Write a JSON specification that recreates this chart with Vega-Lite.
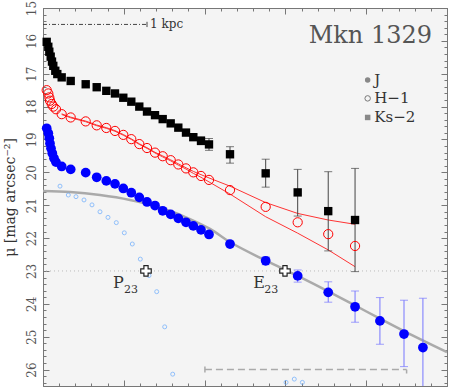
{
  "$schema": "https://vega.github.io/schema/vega-lite/v6.json",
  "width": 404,
  "height": 378,
  "autosize": "none",
  "padding": {"left": 43, "top": 8, "right": 3, "bottom": 1},
  "background": "white",
  "config": {
    "view": {"fill": "#f4f4f4", "stroke": "#777777", "strokeWidth": 1},
    "font": "DejaVu Serif",
    "axis": {"domain": false, "grid": false, "tickColor": "#777777", "labelFont": "DejaVu Serif", "titleFont": "DejaVu Serif", "labelColor": "#555555", "titleColor": "#333333", "titleFontWeight": "normal"}
  },
  "resolve": {"axis": {"x": "independent", "y": "independent"}},
  "datasets": {
    "ks": [
      {"r": 0.229, "mu": 16.03}, {"r": 0.328, "mu": 16.18}, {"r": 0.39, "mu": 16.33}, {"r": 0.476, "mu": 16.48},
      {"r": 0.557, "mu": 16.63}, {"r": 0.637, "mu": 16.76}, {"r": 0.761, "mu": 16.91}, {"r": 0.885, "mu": 17.01},
      {"r": 1.157, "mu": 17.11}, {"r": 1.714, "mu": 17.22}, {"r": 2.642, "mu": 17.32}, {"r": 3.323, "mu": 17.41},
      {"r": 3.917, "mu": 17.52}, {"r": 4.455, "mu": 17.6}, {"r": 4.969, "mu": 17.73}, {"r": 5.464, "mu": 17.85},
      {"r": 5.959, "mu": 18.0}, {"r": 6.436, "mu": 18.15}, {"r": 6.931, "mu": 18.26}, {"r": 7.407, "mu": 18.38},
      {"r": 7.902, "mu": 18.51}, {"r": 8.373, "mu": 18.64},
      {"r": 8.849, "mu": 18.79, "lo": 18.7, "hi": 18.88},
      {"r": 9.301, "mu": 18.93, "lo": 18.84, "hi": 19.02},
      {"r": 9.777, "mu": 19.04, "lo": 18.92, "hi": 19.16},
      {"r": 10.272, "mu": 19.15, "lo": 18.97, "hi": 19.33},
      {"r": 11.572, "mu": 19.45, "lo": 19.22, "hi": 19.72},
      {"r": 13.78, "mu": 20.03, "lo": 19.6, "hi": 20.45},
      {"r": 15.76, "mu": 20.61, "lo": 19.91, "hi": 21.33},
      {"r": 17.65, "mu": 21.18, "lo": 19.98, "hi": 22.39},
      {"r": 19.31, "mu": 21.45, "lo": 19.88, "hi": 23.02}
    ],
    "h": [
      {"r": 0.229, "mu": 17.5}, {"r": 0.328, "mu": 17.6}, {"r": 0.39, "mu": 17.72}, {"r": 0.433, "mu": 17.82},
      {"r": 0.538, "mu": 17.92}, {"r": 0.637, "mu": 18.0}, {"r": 0.804, "mu": 18.08},
      {"r": 1.157, "mu": 18.23, "lo": 18.22, "hi": 18.24},
      {"r": 1.714, "mu": 18.33, "lo": 18.32, "hi": 18.34},
      {"r": 2.642, "mu": 18.45, "lo": 18.44, "hi": 18.46},
      {"r": 3.323, "mu": 18.57, "lo": 18.56, "hi": 18.58},
      {"r": 3.917, "mu": 18.65, "lo": 18.64, "hi": 18.66},
      {"r": 4.455, "mu": 18.74, "lo": 18.73, "hi": 18.75},
      {"r": 4.969, "mu": 18.86, "lo": 18.85, "hi": 18.87},
      {"r": 5.464, "mu": 18.99, "lo": 18.98, "hi": 19.0},
      {"r": 5.959, "mu": 19.14, "lo": 19.13, "hi": 19.15},
      {"r": 6.436, "mu": 19.26, "lo": 19.25, "hi": 19.27},
      {"r": 6.931, "mu": 19.4, "lo": 19.39, "hi": 19.41},
      {"r": 7.407, "mu": 19.51, "lo": 19.5, "hi": 19.53},
      {"r": 7.902, "mu": 19.63, "lo": 19.62, "hi": 19.65},
      {"r": 8.373, "mu": 19.76, "lo": 19.74, "hi": 19.78},
      {"r": 8.849, "mu": 19.88, "lo": 19.86, "hi": 19.9},
      {"r": 9.301, "mu": 20.0, "lo": 19.97, "hi": 20.03},
      {"r": 9.777, "mu": 20.11, "lo": 20.07, "hi": 20.15},
      {"r": 10.272, "mu": 20.23, "lo": 20.17, "hi": 20.29},
      {"r": 11.572, "mu": 20.54, "lo": 20.42, "hi": 20.66},
      {"r": 13.78, "mu": 21.05, "lo": 20.92, "hi": 21.35},
      {"r": 15.76, "mu": 21.52, "lo": 21.25, "hi": 21.85},
      {"r": 17.65, "mu": 21.88, "lo": 21.45, "hi": 22.36},
      {"r": 19.31, "mu": 22.24, "lo": 21.58, "hi": 22.87}
    ],
    "j": [
      {"r": 0.229, "mu": 18.66}, {"r": 0.328, "mu": 18.81}, {"r": 0.39, "mu": 18.96}, {"r": 0.433, "mu": 19.12},
      {"r": 0.495, "mu": 19.27}, {"r": 0.575, "mu": 19.42}, {"r": 0.68, "mu": 19.57}, {"r": 0.804, "mu": 19.69},
      {"r": 1.157, "mu": 19.82}, {"r": 1.714, "mu": 19.91}, {"r": 2.642, "mu": 20.01}, {"r": 3.323, "mu": 20.15},
      {"r": 3.917, "mu": 20.26}, {"r": 4.455, "mu": 20.35}, {"r": 4.969, "mu": 20.49}, {"r": 5.464, "mu": 20.62},
      {"r": 5.959, "mu": 20.76}, {"r": 6.436, "mu": 20.9}, {"r": 6.931, "mu": 21.01}, {"r": 7.407, "mu": 21.17},
      {"r": 7.902, "mu": 21.28}, {"r": 8.373, "mu": 21.4}, {"r": 8.849, "mu": 21.52}, {"r": 9.301, "mu": 21.63},
      {"r": 9.777, "mu": 21.75}, {"r": 10.272, "mu": 21.89}, {"r": 11.572, "mu": 22.18},
      {"r": 13.78, "mu": 22.69, "lo": 22.57, "hi": 22.81},
      {"r": 15.76, "mu": 23.15, "lo": 22.97, "hi": 23.34},
      {"r": 17.65, "mu": 23.65, "lo": 23.33, "hi": 23.95},
      {"r": 19.31, "mu": 24.09, "lo": 23.61, "hi": 24.56},
      {"r": 20.85, "mu": 24.52, "lo": 23.81, "hi": 25.23},
      {"r": 22.34, "mu": 24.92, "lo": 23.89, "hi": 25.91},
      {"r": 23.51, "mu": 25.33, "lo": 23.83, "hi": 26.83}
    ],
    "m": [
      {"r": 1.052, "mu": 20.42}, {"r": 1.566, "mu": 20.69}, {"r": 2.042, "mu": 20.74}, {"r": 2.537, "mu": 20.84},
      {"r": 3.032, "mu": 20.99}, {"r": 3.527, "mu": 21.2}, {"r": 4.022, "mu": 21.37}, {"r": 4.536, "mu": 21.53},
      {"r": 5.031, "mu": 21.84}, {"r": 5.526, "mu": 22.18}, {"r": 6.021, "mu": 22.64}, {"r": 6.559, "mu": 23.14},
      {"r": 7.036, "mu": 23.63}, {"r": 7.531, "mu": 24.7}, {"r": 8.026, "mu": 26.14},
      {"r": 15.04, "mu": 26.39}, {"r": 15.55, "mu": 26.29}, {"r": 16.05, "mu": 26.39}
    ],
    "sersic": [
      {"r": 0.0, "mu": 20.57}, {"r": 1.671, "mu": 20.6}, {"r": 3.527, "mu": 20.69}, {"r": 5.384, "mu": 20.84},
      {"r": 7.24, "mu": 21.07}, {"r": 9.097, "mu": 21.42}, {"r": 10.335, "mu": 21.72}, {"r": 11.572, "mu": 22.12},
      {"r": 13.78, "mu": 22.68}, {"r": 15.76, "mu": 23.15}, {"r": 17.65, "mu": 23.62}, {"r": 19.31, "mu": 24.05},
      {"r": 20.85, "mu": 24.45}, {"r": 22.34, "mu": 24.83}, {"r": 25.0, "mu": 25.47}
    ]
  },
  "layer": [
    {
      "data": {"values": [{}]},
      "mark": {"type": "rule", "color": "#bbbbbb", "strokeDash": [1, 3], "strokeWidth": 1},
      "encoding": {"y": {"datum": 23, "type": "quantitative", "scale": {"domain": [15, 26.5], "reverse": true, "nice": false, "zero": false}, "axis": null}}
    },
    {
      "data": {"name": "sersic"},
      "mark": {"type": "line", "color": "#aaaaaa", "strokeWidth": 2.5, "interpolate": "monotone", "clip": true},
      "encoding": {
        "x": {"field": "r", "type": "quantitative", "scale": {"domain": [0, 25], "nice": false, "zero": false},
              "axis": {"orient": "bottom", "values": [0, 5, 10, 15, 20, 25], "tickSize": -6, "labels": false, "title": null}},
        "y": {"field": "mu", "type": "quantitative", "scale": {"domain": [15, 26.5], "reverse": true, "nice": false, "zero": false},
              "axis": {"orient": "left", "values": [15, 16, 17, 18, 19, 20, 21, 22, 23, 24, 25, 26], "tickSize": -6, "labelAngle": -90, "labelAlign": "center", "labelBaseline": "bottom", "labelFontSize": 12, "labelPadding": 11,
                       "title": "μ [mag arcsec⁻²]", "titleFontSize": 14, "titleX": -33, "titleY": 189, "titleAngle": -90, "titleAlign": "center", "titleBaseline": "middle"}}
      }
    },
    {
      "data": {"name": "m"},
      "mark": {"type": "point", "filled": false, "color": "#66aaff", "size": 16, "strokeWidth": 1, "clip": true},
      "encoding": {
        "x": {"field": "r", "type": "quantitative",
              "axis": {"orient": "bottom", "values": [0,1,2,3,4,5,6,7,8,9,10,11,12,13,14,15,16,17,18,19,20,21,22,23,24,25], "tickSize": -3, "labels": false, "title": null}},
        "y": {"field": "mu", "type": "quantitative",
              "axis": {"orient": "left", "values": [15,15.2,15.4,15.6,15.8,16,16.2,16.4,16.6,16.8,17,17.2,17.4,17.6,17.8,18,18.2,18.4,18.6,18.8,19,19.2,19.4,19.6,19.8,20,20.2,20.4,20.6,20.8,21,21.2,21.4,21.6,21.8,22,22.2,22.4,22.6,22.8,23,23.2,23.4,23.6,23.8,24,24.2,24.4,24.6,24.8,25,25.2,25.4,25.6,25.8,26,26.2,26.4], "tickSize": -3, "labels": false, "title": null}}
      }
    },
    {
      "data": {"name": "h"},
      "transform": [{"filter": "isValid(datum.lo)"}],
      "mark": {"type": "line", "color": "#ff3333", "strokeWidth": 1},
      "encoding": {
        "x": {"field": "r", "type": "quantitative",
              "axis": {"orient": "top", "values": [0, 5, 10, 15, 20, 25], "tickSize": -6, "labels": false, "title": null}},
        "y": {"field": "lo", "type": "quantitative",
              "axis": {"orient": "right", "values": [15, 16, 17, 18, 19, 20, 21, 22, 23, 24, 25, 26], "tickSize": -6, "labels": false, "title": null}}
      }
    },
    {
      "data": {"name": "h"},
      "transform": [{"filter": "isValid(datum.hi)"}],
      "mark": {"type": "line", "color": "#ff3333", "strokeWidth": 1},
      "encoding": {
        "x": {"field": "r", "type": "quantitative",
              "axis": {"orient": "top", "values": [0,1,2,3,4,5,6,7,8,9,10,11,12,13,14,15,16,17,18,19,20,21,22,23,24,25], "tickSize": -3, "labels": false, "title": null}},
        "y": {"field": "hi", "type": "quantitative",
              "axis": {"orient": "right", "values": [15,15.2,15.4,15.6,15.8,16,16.2,16.4,16.6,16.8,17,17.2,17.4,17.6,17.8,18,18.2,18.4,18.6,18.8,19,19.2,19.4,19.6,19.8,20,20.2,20.4,20.6,20.8,21,21.2,21.4,21.6,21.8,22,22.2,22.4,22.6,22.8,23,23.2,23.4,23.6,23.8,24,24.2,24.4,24.6,24.8,25,25.2,25.4,25.6,25.8,26,26.2,26.4], "tickSize": -3, "labels": false, "title": null}}
      }
    },
    {
      "data": {"name": "ks"},
      "transform": [{"filter": "isValid(datum.lo)"}],
      "mark": {"type": "rule", "color": "#444444", "strokeWidth": 1, "clip": true},
      "encoding": {
        "x": {"field": "r", "type": "quantitative", "axis": null},
        "y": {"field": "lo", "type": "quantitative", "axis": null},
        "y2": {"field": "hi"}
      }
    },
    {
      "data": {"name": "ks"},
      "transform": [{"filter": "isValid(datum.lo)"}, {"fold": ["lo", "hi"], "as": ["end", "val"]}],
      "mark": {"type": "tick", "orient": "horizontal", "color": "#444444", "size": 8, "thickness": 1, "clip": true},
      "encoding": {
        "x": {"field": "r", "type": "quantitative", "axis": null},
        "y": {"field": "val", "type": "quantitative", "axis": null}
      }
    },
    {
      "data": {"name": "j"},
      "transform": [{"filter": "isValid(datum.lo)"}],
      "mark": {"type": "rule", "color": "#7777ff", "strokeWidth": 1, "clip": true},
      "encoding": {
        "x": {"field": "r", "type": "quantitative", "axis": null},
        "y": {"field": "lo", "type": "quantitative", "axis": null},
        "y2": {"field": "hi"}
      }
    },
    {
      "data": {"name": "j"},
      "transform": [{"filter": "isValid(datum.lo)"}, {"fold": ["lo", "hi"], "as": ["end", "val"]}],
      "mark": {"type": "tick", "orient": "horizontal", "color": "#7777ff", "size": 8, "thickness": 1, "clip": true},
      "encoding": {
        "x": {"field": "r", "type": "quantitative", "axis": null},
        "y": {"field": "val", "type": "quantitative", "axis": null}
      }
    },
    {
      "data": {"name": "ks"},
      "mark": {"type": "point", "shape": "square", "filled": true, "color": "#000000", "size": 70, "opacity": 1},
      "encoding": {
        "x": {"field": "r", "type": "quantitative", "axis": null},
        "y": {"field": "mu", "type": "quantitative", "axis": null}
      }
    },
    {
      "data": {"name": "h"},
      "mark": {"type": "point", "shape": "circle", "filled": false, "color": "#ff0000", "size": 85, "strokeWidth": 1, "opacity": 1},
      "encoding": {
        "x": {"field": "r", "type": "quantitative", "axis": null},
        "y": {"field": "mu", "type": "quantitative", "axis": null}
      }
    },
    {
      "data": {"name": "j"},
      "mark": {"type": "point", "shape": "circle", "filled": true, "color": "#0000ff", "size": 95, "opacity": 1},
      "encoding": {
        "x": {"field": "r", "type": "quantitative", "axis": null},
        "y": {"field": "mu", "type": "quantitative", "axis": null}
      }
    },
    {
      "data": {"values": [{}]},
      "mark": {"type": "point", "shape": "cross", "size": 110, "fill": "#ffffff", "stroke": "#222222", "strokeWidth": 1.2, "filled": false, "opacity": 1},
      "encoding": {"x": {"datum": 6.374, "type": "quantitative", "axis": null}, "y": {"datum": 23.0, "type": "quantitative", "axis": null}}
    },
    {
      "data": {"values": [{}]},
      "mark": {"type": "point", "shape": "cross", "size": 110, "fill": "#ffffff", "stroke": "#222222", "strokeWidth": 1.2, "filled": false, "opacity": 1},
      "encoding": {"x": {"datum": 14.975, "type": "quantitative", "axis": null}, "y": {"datum": 23.0, "type": "quantitative", "axis": null}}
    },
    {
      "data": {"values": [{}]},
      "mark": {"type": "text", "text": "P", "font": "DejaVu Serif", "fontSize": 16, "align": "left", "baseline": "alphabetic", "color": "#333333"},
      "encoding": {"x": {"datum": 4.33, "type": "quantitative", "axis": null}, "y": {"datum": 23.52, "type": "quantitative", "axis": null}}
    },
    {
      "data": {"values": [{}]},
      "mark": {"type": "text", "text": "23", "font": "DejaVu Serif", "fontSize": 11, "align": "left", "baseline": "alphabetic", "color": "#333333"},
      "encoding": {"x": {"datum": 5.01, "type": "quantitative", "axis": null}, "y": {"datum": 23.67, "type": "quantitative", "axis": null}}
    },
    {
      "data": {"values": [{}]},
      "mark": {"type": "text", "text": "E", "font": "DejaVu Serif", "fontSize": 16, "align": "left", "baseline": "alphabetic", "color": "#333333"},
      "encoding": {"x": {"datum": 13.01, "type": "quantitative", "axis": null}, "y": {"datum": 23.52, "type": "quantitative", "axis": null}}
    },
    {
      "data": {"values": [{}]},
      "mark": {"type": "text", "text": "23", "font": "DejaVu Serif", "fontSize": 11, "align": "left", "baseline": "alphabetic", "color": "#333333"},
      "encoding": {"x": {"datum": 13.69, "type": "quantitative", "axis": null}, "y": {"datum": 23.67, "type": "quantitative", "axis": null}}
    },
    {
      "data": {"values": [{}]},
      "mark": {"type": "text", "text": "Mkn 1329", "font": "DejaVu Serif", "fontSize": 24, "align": "right", "baseline": "alphabetic", "color": "#555555"},
      "encoding": {"x": {"datum": 24.07, "type": "quantitative", "axis": null}, "y": {"datum": 16.06, "type": "quantitative", "axis": null}}
    },
    {
      "data": {"values": [{}]},
      "mark": {"type": "text", "text": "1 kpc", "font": "DejaVu Serif", "fontSize": 12, "align": "left", "baseline": "alphabetic", "color": "#333333"},
      "encoding": {"x": {"datum": 6.62, "type": "quantitative", "axis": null}, "y": {"datum": 15.62, "type": "quantitative", "axis": null}}
    },
    {
      "data": {"values": [{}]},
      "mark": {"type": "point", "shape": "circle", "size": 30, "filled": true, "color": "#888888", "opacity": 1},
      "encoding": {"x": {"datum": 20.09, "type": "quantitative", "axis": null}, "y": {"datum": 17.19, "type": "quantitative", "axis": null}}
    },
    {
      "data": {"values": [{}]},
      "mark": {"type": "point", "shape": "circle", "size": 30, "filled": false, "color": "#777777", "strokeWidth": 1, "opacity": 1},
      "encoding": {"x": {"datum": 20.09, "type": "quantitative", "axis": null}, "y": {"datum": 17.75, "type": "quantitative", "axis": null}}
    },
    {
      "data": {"values": [{}]},
      "mark": {"type": "point", "shape": "square", "size": 30, "filled": true, "color": "#888888", "opacity": 1},
      "encoding": {"x": {"datum": 20.09, "type": "quantitative", "axis": null}, "y": {"datum": 18.33, "type": "quantitative", "axis": null}}
    },
    {
      "data": {"values": [{}]},
      "mark": {"type": "text", "text": "J", "font": "DejaVu Serif", "fontSize": 15, "align": "left", "baseline": "middle", "color": "#333333"},
      "encoding": {"x": {"datum": 20.5, "type": "quantitative", "axis": null}, "y": {"datum": 17.19, "type": "quantitative", "axis": null}}
    },
    {
      "data": {"values": [{}]},
      "mark": {"type": "text", "text": "H−1", "font": "DejaVu Serif", "fontSize": 15, "align": "left", "baseline": "middle", "color": "#333333"},
      "encoding": {"x": {"datum": 20.5, "type": "quantitative", "axis": null}, "y": {"datum": 17.75, "type": "quantitative", "axis": null}}
    },
    {
      "data": {"values": [{}]},
      "mark": {"type": "text", "text": "Ks−2", "font": "DejaVu Serif", "fontSize": 15, "align": "left", "baseline": "middle", "color": "#333333"},
      "encoding": {"x": {"datum": 20.5, "type": "quantitative", "axis": null}, "y": {"datum": 18.33, "type": "quantitative", "axis": null}}
    },
    {
      "data": {"values": [{}]},
      "mark": {"type": "rule", "color": "#444444", "strokeWidth": 1, "strokeDash": [4, 2, 1, 2]},
      "encoding": {"x": {"datum": 0, "type": "quantitative", "axis": null}, "x2": {"datum": 6.436}, "y": {"datum": 15.5, "type": "quantitative", "axis": null}}
    },
    {
      "data": {"values": [{}]},
      "mark": {"type": "rule", "color": "#444444", "strokeWidth": 1},
      "encoding": {"x": {"datum": 6.436, "type": "quantitative", "axis": null}, "y": {"datum": 15.42, "type": "quantitative", "axis": null}, "y2": {"datum": 15.58}}
    },
    {
      "data": {"values": [{}]},
      "mark": {"type": "rule", "color": "#aaaaaa", "strokeWidth": 1.5, "strokeDash": [7, 4]},
      "encoding": {"x": {"datum": 10.02, "type": "quantitative", "axis": null}, "x2": {"datum": 22.5}, "y": {"datum": 26.0, "type": "quantitative", "axis": null}}
    },
    {
      "data": {"values": [{}]},
      "mark": {"type": "rule", "color": "#aaaaaa", "strokeWidth": 1.5},
      "encoding": {"x": {"datum": 10.02, "type": "quantitative", "axis": null}, "y": {"datum": 25.91, "type": "quantitative", "axis": null}, "y2": {"datum": 26.09}}
    },
    {
      "data": {"values": [{}]},
      "mark": {"type": "rule", "color": "#aaaaaa", "strokeWidth": 1.5},
      "encoding": {"x": {"datum": 22.5, "type": "quantitative", "axis": null}, "y": {"datum": 26.0, "type": "quantitative", "axis": null}, "y2": {"datum": 26.12}}
    }
  ]
}
